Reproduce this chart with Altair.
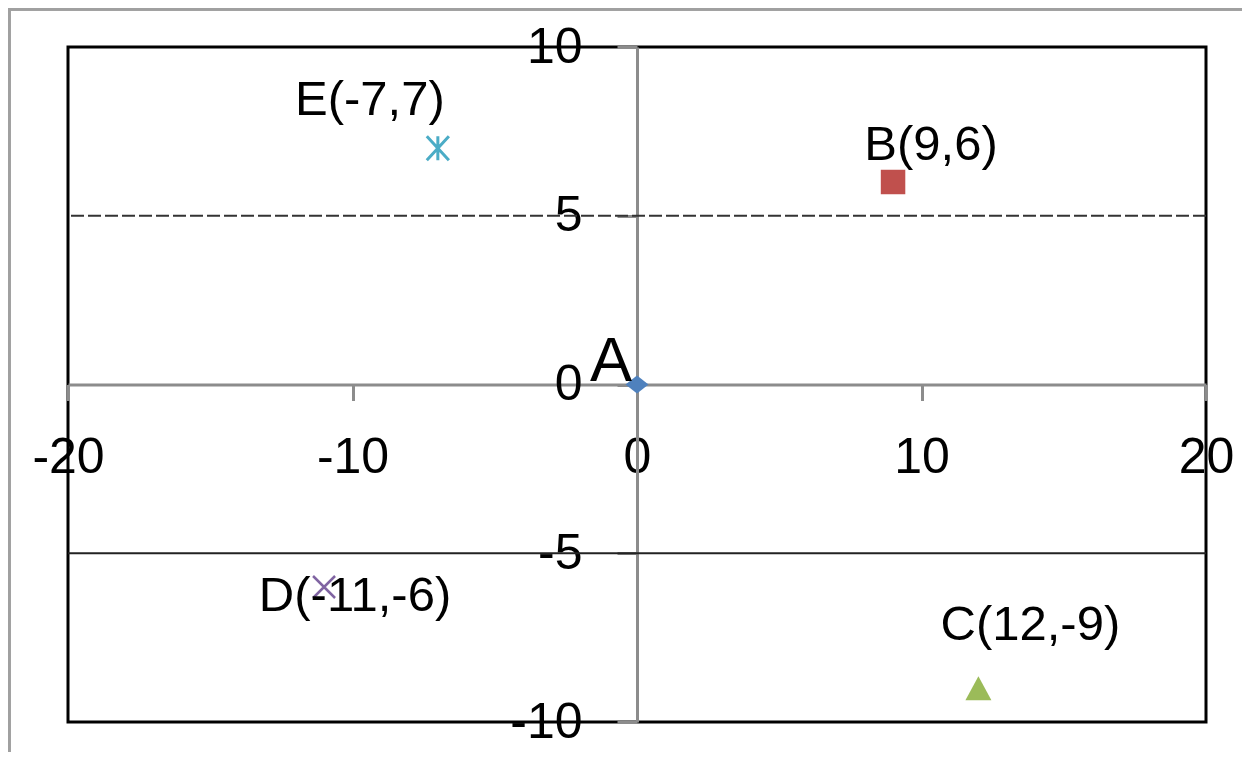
import altair as alt
import pandas as pd

# ---- data ----
names = ["A", "B", "C", "D", "E"]
x_vals = [0, 9, 12, -11, -7]
y_vals = [0, 6, -9, -6, 7]
labels = ["A", "B(9,6)", "C(12,-9)", "D(-11,-6)", "E(-7,7)"]
x_ticks = [-20, -10, 0, 10, 20]
y_ticks = [-10, -5, 0, 5, 10]
dashed_grid = [5]
solid_grid = [-5]

df = pd.DataFrame({"name": names, "x": x_vals, "y": y_vals, "label": labels})

W, H = 1138, 675
FONT = "Liberation Sans"
AXIS_GRAY = "#8c8c8c"

xs = alt.Scale(domain=[-20, 20], nice=False, zero=False)
ys = alt.Scale(domain=[-10, 10], nice=False, zero=False)

x_axis = alt.Axis(values=x_ticks, offset=-H / 2, domainColor=AXIS_GRAY, domainWidth=3,
                  tickColor=AXIS_GRAY, tickWidth=3, tickSize=16,
                  labelFont=FONT, labelFontSize=50, labelColor="#000000", labelPadding=32,
                  labelOverlap=False, labelBound=False, labelFlush=False,
                  labelExpr="'' + datum.value",
                  grid=False, title=None)
y_axis = alt.Axis(values=y_ticks, offset=-W / 2, domainColor=AXIS_GRAY, domainWidth=3,
                  tickColor=AXIS_GRAY, tickWidth=3, tickSize=20,
                  labelFont=FONT, labelFontSize=50, labelColor="#000000", labelPadding=35,
                  labelOverlap=False, labelBound=False, labelFlush=False,
                  labelExpr="'' + datum.value",
                  grid=False, title=None)

x_enc = alt.X("x:Q", scale=xs, axis=x_axis)
y_enc = alt.Y("y:Q", scale=ys, axis=y_axis)

# outer chart-area frame (only top/left edges visible in the window)
frame = alt.Chart(df).mark_rect(filled=False, stroke="#a0a0a0", strokeWidth=3).encode(
    x=alt.value(-59), x2=alt.value(W + 300), y=alt.value(-38), y2=alt.value(H + 300)
)

grid_dash = alt.Chart(pd.DataFrame({"y": dashed_grid})).mark_rule(
    color="#333333", strokeWidth=2, strokeDash=[13, 4]
).encode(y=y_enc)

grid_solid = alt.Chart(pd.DataFrame({"y": solid_grid})).mark_rule(
    color="#222222", strokeWidth=2
).encode(y=y_enc)

point_styles = {
    "A": dict(shape="M-1,0L0,-0.78L1,0L0,0.78Z", size=529, filled=True, color="#4F81BD"),
    "B": dict(shape="square", size=600, filled=True, color="#C0504D"),
    "C": dict(shape="M0,-0.92L1,0.92L-1,0.92Z", size=676, filled=True, color="#9BBB59"),
    "D": dict(shape="M-1,-1L1,1M-1,1L1,-1", size=484, filled=False, color="#8064A2", strokeWidth=2.5),
    "E": dict(shape="M-0.92,-1L0.92,1M-0.92,1L0.92,-1M0,-1L0,1", size=576, filled=False,
              color="#4BACC6", strokeWidth=3),
}
label_styles = {
    "A": dict(dx=-26, dy=-4, fontSize=63),
    "B": dict(dx=38, dy=-22, fontSize=49),
    "C": dict(dx=52, dy=-48, fontSize=49),
    "D": dict(dx=31, dy=24, fontSize=49),
    "E": dict(dx=-68, dy=-33, fontSize=49),
}

layers = [frame, grid_dash, grid_solid]
for n in names:
    layers.append(
        alt.Chart(df).transform_filter(alt.datum.name == n)
        .mark_point(opacity=1, **point_styles[n])
        .encode(x=x_enc, y=y_enc)
    )
for n in names:
    layers.append(
        alt.Chart(df).transform_filter(alt.datum.name == n)
        .mark_text(font=FONT, color="#000000", align="center", baseline="alphabetic",
                   **label_styles[n])
        .encode(x=x_enc, y=y_enc, text="label:N")
    )

chart = alt.layer(*layers).properties(
    width=W, height=H, autosize="none",
    padding={"left": 60, "top": 39, "right": 36, "bottom": 30},
    background="white",
).configure_view(stroke="black", strokeWidth=3)

chart.save("out.html", embed_options={"renderer": "svg", "actions": False})
